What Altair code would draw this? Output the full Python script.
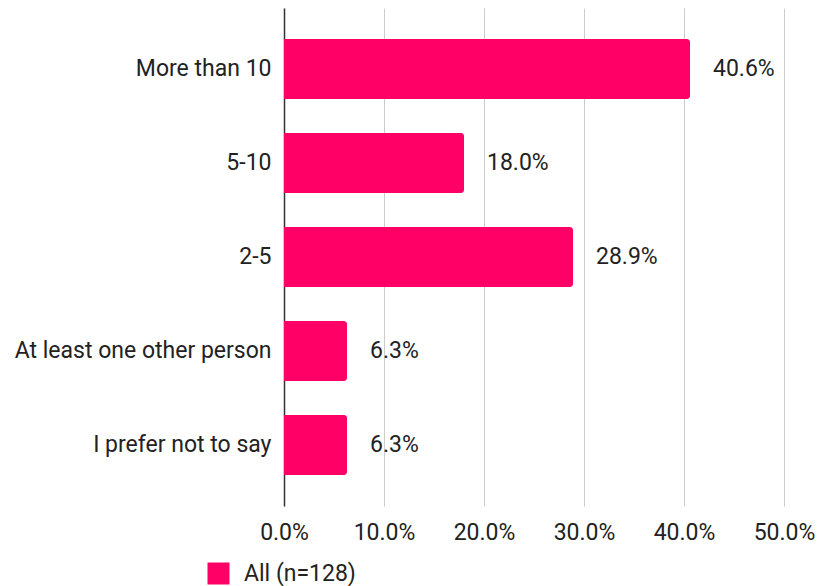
import altair as alt
import pandas as pd

categories = ["More than 10", "5-10", "2-5", "At least one other person", "I prefer not to say"]
values = [0.406, 0.180, 0.289, 0.063, 0.063]
series = ["All (n=128)"] * 5
x_ticks = [0.0, 0.1, 0.2, 0.3, 0.4, 0.5]

df = pd.DataFrame({"category": categories, "value": values, "series": series})

FONT = "Roboto"
PINK = "#FF0066"
FS = 23

y = alt.Y("category:N", sort=categories, title=None,
          scale=alt.Scale(paddingInner=0.362, paddingOuter=0.33),
          axis=alt.Axis(ticks=False, domain=True, domainColor="#333333", domainWidth=1.5,
                        labelFontSize=FS, labelFont=FONT, labelColor="#222222",
                        labelPadding=13, labelLimit=400))

x = alt.X("value:Q", title=None,
          scale=alt.Scale(domain=[0, 0.5], nice=False),
          axis=alt.Axis(values=x_ticks, format=".1%", domain=False, ticks=False,
                        grid=True, gridColor="#cccccc", gridWidth=1,
                        labelFlush=False, labelOverlap=False,
                        labelFontSize=FS, labelFont=FONT, labelColor="#222222",
                        labelPadding=15))

bars = alt.Chart(df).mark_bar(cornerRadiusEnd=3).encode(
    x=x, y=y,
    color=alt.Color("series:N", scale=alt.Scale(range=[PINK]), title=None,
                    legend=alt.Legend(orient="none", legendX=-77, legendY=554,
                                      symbolType="square", symbolSize=484,
                                      symbolStrokeWidth=0, symbolOpacity=1,
                                      labelFontSize=FS, labelFont=FONT,
                                      labelColor="#222222", labelOffset=14)),
)

labels = alt.Chart(df).mark_text(align="left", baseline="middle", dx=23,
                                 fontSize=FS, font=FONT, color="#222222").encode(
    x=alt.X("value:Q"), y=alt.Y("category:N", sort=categories),
    text=alt.Text("value:Q", format=".1%"),
)

chart = (bars + labels).properties(
    width=500, height=498,
    autosize=alt.AutoSizeParams(type="none"),
    padding={"left": 284, "top": 8, "right": 33, "bottom": 80},
).configure_view(stroke=None).configure_axisY(grid=False)

chart.save("out.html", embed_options={"renderer": "svg", "actions": False})
